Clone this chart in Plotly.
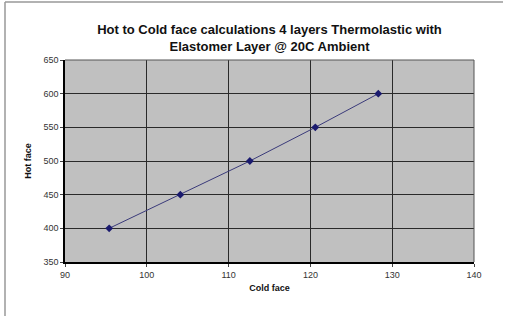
import plotly.graph_objects as go

cold_face = [95.4, 104.1, 112.6, 120.6, 128.3]
hot_face = [400, 450, 500, 550, 600]
title_text = "Hot to Cold face calculations 4 layers Thermolastic with<br>Elastomer Layer @ 20C Ambient"

fig = go.Figure()
fig.add_trace(go.Scatter(
    x=cold_face, y=hot_face, mode="lines+markers",
    line=dict(color="#3a3a7a", width=1),
    marker=dict(symbol="diamond", size=6, color="#1a1a6e"),
    showlegend=False,
))

axis_common = dict(
    showline=True, linecolor="black", linewidth=1.5, mirror=False,
    showgrid=True, gridcolor="#2a2a2a", gridwidth=1,
    ticks="outside", ticklen=3, tickcolor="#444", tickwidth=1,
    tickfont=dict(family="Liberation Sans, Arial", size=9, color="#333"),
    zeroline=False, automargin=False,
)
fig.update_xaxes(range=[90, 140], dtick=10, **axis_common,
                 title=dict(text="<b>Cold face</b>", standoff=6,
                            font=dict(family="Liberation Sans, Arial", size=9, color="#111")))
fig.update_yaxes(range=[350, 650], dtick=50, **axis_common,
                 title=dict(text="<b>Hot face</b>", standoff=10,
                            font=dict(family="Liberation Sans, Arial", size=9, color="#111")))

fig.update_layout(
    width=506, height=316,
    margin=dict(l=65, r=32, t=60, b=54),
    paper_bgcolor="white", plot_bgcolor="#c0c0c0",
    title=dict(text="<b>" + title_text + "</b>", x=(65 + 474) / 2 / 506, xanchor="center",
               y=1 - 34 / 316, yanchor="middle",
               font=dict(family="Liberation Sans, Arial", size=13, color="#111")),
    shapes=[
        dict(type="line", xref="paper", yref="paper", x0=-60/409, x1=-60/409, y0=-54/202, y1=1 + 58/202,
             line=dict(color="#999", width=1.5)),
        dict(type="line", xref="paper", yref="paper", x0=-60/409, x1=1 + 29/409, y0=1 + 58/202, y1=1 + 58/202,
             line=dict(color="#999", width=1.5)),
        dict(type="line", xref="paper", yref="paper", x0=0, x1=1, y0=1, y1=1,
             line=dict(color="#555", width=1)),
        dict(type="line", xref="paper", yref="paper", x0=1, x1=1, y0=0, y1=1,
             line=dict(color="#555", width=1)),
    ],
)
fig.write_html("out.html", post_script="document.body.style.margin='0';",
               config={"displayModeBar": False})
